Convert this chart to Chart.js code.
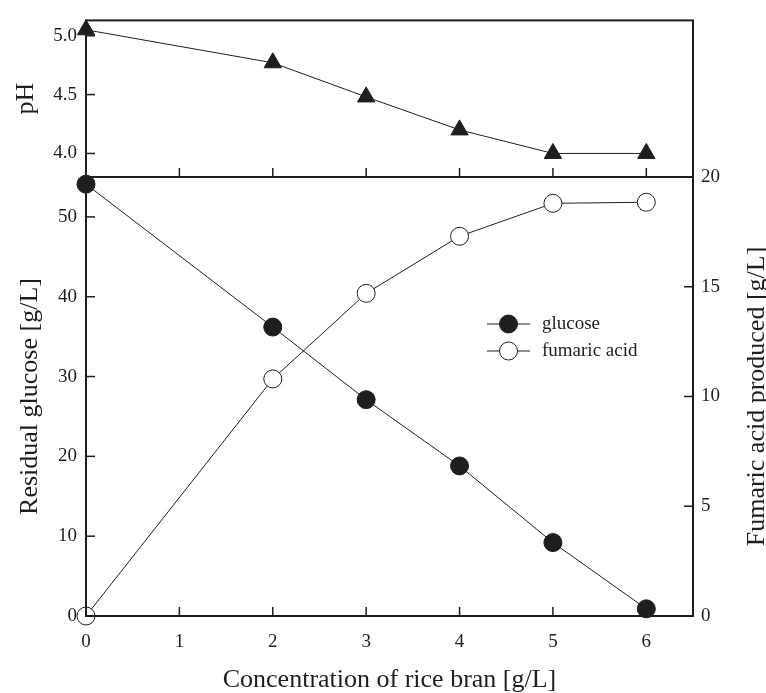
<!DOCTYPE html>
<html>
<head>
<meta charset="utf-8">
<script src="https://cdn.jsdelivr.net/npm/chart.js@4"></script>
<style>
  html, body { margin: 0; padding: 0; background: #fff; }
  #wrap { position: relative; width: 766px; height: 693px; }
  canvas { position: absolute; left: 0; top: 0; }
</style>
</head>
<body>
<div id="wrap">
  <canvas id="lower" width="766" height="693"></canvas>
  <canvas id="upper" width="766" height="693"></canvas>
</div>
<script>
// data
const riceBran = [0, 2, 3, 4, 5, 6];
const pHValues = [5.05, 4.77, 4.48, 4.2, 4.0, 4.0];
const glucose = [54.1, 36.2, 27.1, 18.8, 9.2, 0.9];
const fumaric = [0, 10.8, 14.7, 17.3, 18.8, 18.85];

const ink = '#1e1e1e';
const serif = '"Liberation Serif", "Times New Roman", serif';
Chart.defaults.font.family = serif;
Chart.defaults.color = ink;

function pts(ys) {
  return riceBran.map((x, i) => ({x: x, y: ys[i]}));
}

// box round the plot + inward tick marks
const frame = {
  id: 'frame',
  afterDraw(chart) {
    const ctx = chart.ctx;
    const a = chart.chartArea;
    ctx.save();
    ctx.strokeStyle = ink;
    ctx.lineWidth = 1.5;
    Object.values(chart.scales).forEach(s => {
      s.ticks.forEach((t, i) => {
        if (s.isHorizontal()) {
          const px = s.getPixelForTick(i);
          if (px < a.left + 2 || px > a.right - 2) return;
          ctx.beginPath();
          ctx.moveTo(px, a.bottom);
          ctx.lineTo(px, a.bottom - 9);
          ctx.stroke();
        } else {
          const py = s.getPixelForTick(i);
          if (py < a.top + 2 || py > a.bottom - 2) return;
          ctx.beginPath();
          if (s.position === 'left') {
            ctx.moveTo(a.left, py); ctx.lineTo(a.left + 9, py);
          } else {
            ctx.moveTo(a.right, py); ctx.lineTo(a.right - 9, py);
          }
          ctx.stroke();
        }
      });
    });
    ctx.lineWidth = 2;
    ctx.strokeRect(a.left, a.top, a.right - a.left, a.bottom - a.top);
    ctx.restore();
  }
};

// legend inside the lower panel
const innerLegend = {
  id: 'innerLegend',
  afterDraw(chart, args, opts) {
    const ctx = chart.ctx;
    chart.data.datasets.forEach((ds, i) => {
      const y = opts.y + i * opts.gap;
      ctx.save();
      ctx.strokeStyle = ink;
      ctx.lineWidth = 1;
      ctx.beginPath();
      ctx.moveTo(opts.x, y);
      ctx.lineTo(opts.x + opts.len, y);
      ctx.stroke();
      ctx.fillStyle = ds.pointBackgroundColor;
      ctx.strokeStyle = ds.pointBorderColor;
      Chart.helpers.drawPoint(ctx, {pointStyle: 'circle', radius: ds.pointRadius, borderWidth: 1}, opts.x + opts.len / 2, y);
      ctx.fillStyle = ink;
      ctx.font = '19px ' + serif;
      ctx.textBaseline = 'middle';
      ctx.fillText(ds.label, opts.x + opts.len + 12, y);
      ctx.restore();
    });
  }
};

// right axis title reads bottom to top
const rightTitle = {
  id: 'rightTitle',
  afterDraw(chart, args, opts) {
    const s = chart.scales.yR;
    const ctx = chart.ctx;
    ctx.save();
    ctx.translate(opts.x, (s.top + s.bottom) / 2);
    ctx.rotate(-Math.PI / 2);
    ctx.textAlign = 'center';
    ctx.textBaseline = 'middle';
    ctx.fillStyle = ink;
    ctx.font = '26px ' + serif;
    ctx.fillText(opts.text, 0, 0);
    ctx.restore();
  }
};

const tickFont = {size: 19};
const titleFont = {size: 26, lineHeight: 1};
const noGrid = {display: false, drawTicks: false};

new Chart(document.getElementById('lower'), {
  type: 'line',
  data: {
    datasets: [
      {
        label: 'glucose',
        data: pts(glucose),
        yAxisID: 'yL',
        borderColor: ink,
        borderWidth: 1,
        pointRadius: 9,
        pointBackgroundColor: ink,
        pointBorderColor: ink,
        pointBorderWidth: 1,
        clip: false
      },
      {
        label: 'fumaric acid',
        data: pts(fumaric),
        yAxisID: 'yR',
        borderColor: ink,
        borderWidth: 1,
        pointRadius: 9,
        pointBackgroundColor: '#ffffff',
        pointBorderColor: ink,
        pointBorderWidth: 1,
        clip: false
      }
    ]
  },
  options: {
    responsive: false,
    animation: false,
    devicePixelRatio: 1,
    layout: {padding: {top: 177, left: 0, right: 0, bottom: 0}},
    scales: {
      x: {
        type: 'linear',
        min: 0, max: 6.5,
        grid: noGrid,
        border: {display: false},
        ticks: {stepSize: 1, includeBounds: false, font: tickFont, padding: 15},
        title: {display: true, text: 'Concentration of rice bran [g/L]', font: titleFont, padding: {top: 0, bottom: 0}},
        afterFit: s => { s.height = 77; }
      },
      yL: {
        type: 'linear',
        position: 'left',
        min: 0, max: 55,
        grid: noGrid,
        border: {display: false},
        ticks: {stepSize: 10, includeBounds: false, font: tickFont, padding: 9},
        title: {display: true, text: 'Residual glucose [g/L]', font: titleFont, padding: {top: 17, bottom: 0}},
        afterFit: s => { s.width = 86; }
      },
      yR: {
        type: 'linear',
        position: 'right',
        min: 0, max: 20,
        grid: noGrid,
        border: {display: false},
        ticks: {stepSize: 5, includeBounds: false, font: tickFont, padding: 8},
        afterFit: s => { s.width = 73; }
      }
    },
    plugins: {
      legend: {display: false},
      tooltip: {enabled: false},
      innerLegend: {x: 487, y: 324, gap: 27, len: 43},
      rightTitle: {x: 757, text: 'Fumaric acid produced [g/L]'}
    }
  },
  plugins: [frame, innerLegend, rightTitle]
});

new Chart(document.getElementById('upper'), {
  type: 'line',
  data: {
    datasets: [
      {
        label: 'pH',
        data: pts(pHValues),
        borderColor: ink,
        borderWidth: 1,
        pointStyle: 'triangle',
        pointRadius: 10,
        pointBackgroundColor: ink,
        pointBorderColor: ink,
        pointBorderWidth: 1,
        clip: false
      }
    ]
  },
  options: {
    responsive: false,
    animation: false,
    devicePixelRatio: 1,
    layout: {padding: {top: 12, left: 0, right: 73, bottom: 0}},
    scales: {
      x: {
        type: 'linear',
        min: 0, max: 6.5,
        grid: noGrid,
        border: {display: false},
        ticks: {stepSize: 1, includeBounds: false, display: false},
        afterFit: s => { s.height = 516; }
      },
      y: {
        type: 'linear',
        position: 'left',
        min: 3.8, max: 5.13,
        grid: noGrid,
        border: {display: false},
        ticks: {stepSize: 0.5, includeBounds: false, font: tickFont, padding: 9,
                callback: v => v.toFixed(1)},
        title: {display: true, text: 'pH', font: titleFont, padding: {top: 13, bottom: 0}},
        afterFit: s => { s.width = 86; }
      }
    },
    plugins: {
      legend: {display: false},
      tooltip: {enabled: false}
    }
  },
  plugins: [frame]
});
</script>
</body>
</html>
